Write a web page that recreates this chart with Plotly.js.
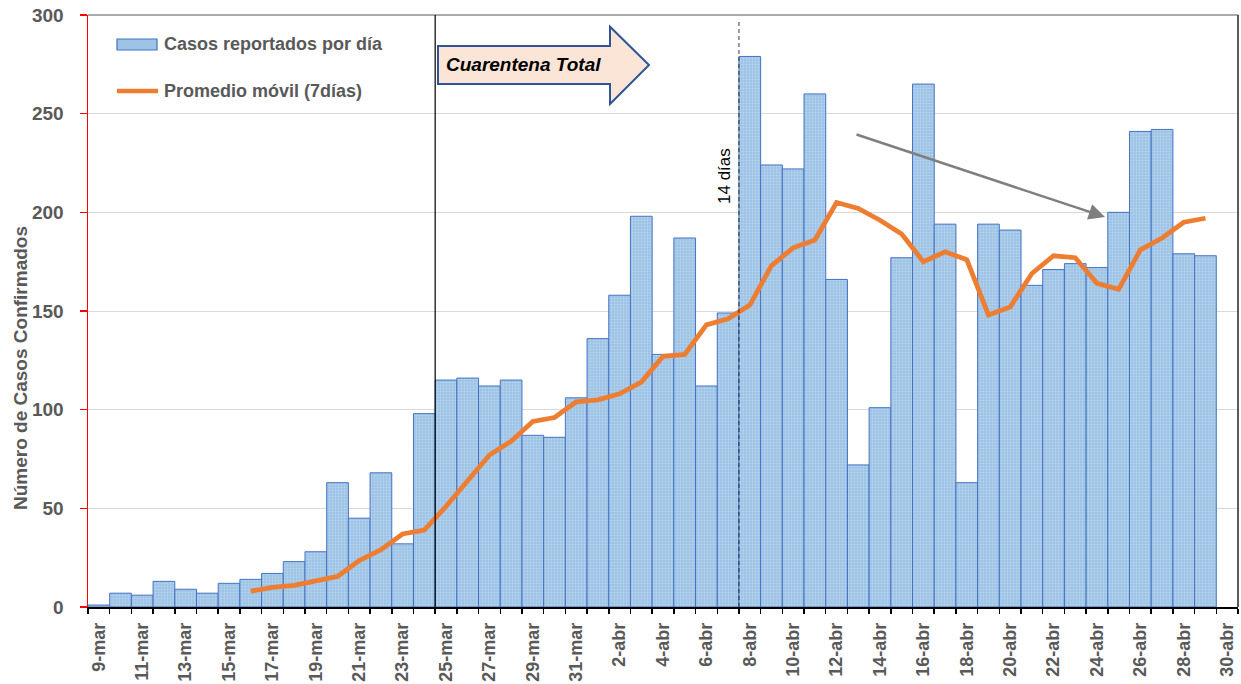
<!DOCTYPE html>
<html>
<head>
<meta charset="utf-8">
<script src="https://cdn.plot.ly/plotly-3.0.1.min.js"></script>
<style>
html,body{margin:0;padding:0;background:#ffffff;}
#chart{width:1241px;height:684px;}
</style>
</head>
<body>
<div id="chart"></div>
<script>
// Categories (days), 9-mar .. 30-abr
const dias = [
  "9-mar","10-mar","11-mar","12-mar","13-mar","14-mar","15-mar","16-mar","17-mar","18-mar",
  "19-mar","20-mar","21-mar","22-mar","23-mar","24-mar","25-mar","26-mar","27-mar","28-mar",
  "29-mar","30-mar","31-mar","1-abr","2-abr","3-abr","4-abr","5-abr","6-abr","7-abr",
  "8-abr","9-abr","10-abr","11-abr","12-abr","13-abr","14-abr","15-abr","16-abr","17-abr",
  "18-abr","19-abr","20-abr","21-abr","22-abr","23-abr","24-abr","25-abr","26-abr","27-abr",
  "28-abr","29-abr","30-abr"
];

// Daily reported cases (9-mar .. 29-abr)
const casosDias = dias.slice(0, 52);
const casos = [
  1,7,6,13,9,7,12,14,17,23,
  28,63,45,68,32,98,115,116,112,115,
  87,86,106,136,158,198,128,187,112,149,
  279,224,222,260,166,72,101,177,265,194,
  63,194,191,163,171,174,172,200,241,242,
  179,178
];

// 7-day moving average (16-mar .. 29-abr)
const promedioDias = dias.slice(7, 52);
const promedio = [
  8,10,11,13.5,15.5,23.5,29,37,39,51,
  64,77,84,94,96,104,105,108,114,127,
  128,143,146,153,173,182,186,205,202,196,
  189,175,180,176,148,152,169,178,177,164,
  161,181,187,195,197
];

// Tick labels: every other day
const tickTexto = dias.map((d, i) => (i % 2 === 0 ? d : ""));

const serieBarras = "Casos reportados por día";
const serieLinea = "Promedio móvil (7días)";

const FONT = "Liberation Sans, Arial, sans-serif";
const GRIS = "#595959";

const traces = [
  {
    type: "bar",
    name: serieBarras,
    x: casosDias,
    y: casos,
    marker: {
      color: "#9DC3E6",
      line: { color: "#4472C4", width: 1 },
      pattern: { shape: ".", bgcolor: "#9DC3E6", fgcolor: "#B8D4EE", size: 3, solidity: 0.35, fillmode: "replace" }
    },
    showlegend: false,
    hoverinfo: "x+y"
  },
  {
    type: "scatter",
    mode: "lines",
    name: serieLinea,
    x: promedioDias,
    y: promedio,
    line: { color: "#ED7D31", width: 4.8 },
    showlegend: false
  }
];

const P = (px) => (px - 88) / 1150;   // helper for paper x (decorations)
const Q = (py) => (607 - py) / 592;   // helper for paper y (decorations)

const arrowPath =
  "M" + P(438) + "," + Q(46) +
  " L" + P(610) + "," + Q(46) +
  " L" + P(610) + "," + Q(26.7) +
  " L" + P(649) + "," + Q(65) +
  " L" + P(610) + "," + Q(104) +
  " L" + P(610) + "," + Q(84) +
  " L" + P(438) + "," + Q(84) + " Z";

const layout = {
  width: 1241,
  height: 684,
  margin: { l: 88, r: 3, t: 15, b: 77 },
  paper_bgcolor: "#ffffff",
  plot_bgcolor: "#ffffff",
  bargap: 0,
  showlegend: false,
  font: { family: FONT, color: GRIS },
  xaxis: {
    type: "category",
    categoryorder: "array",
    categoryarray: dias,
    range: [-0.5, dias.length - 0.5],
    tickmode: "array",
    tickvals: dias,
    ticktext: tickTexto,
    tickson: "boundaries",
    ticks: "outside",
    ticklen: 5,
    tickwidth: 1.5,
    tickcolor: "#000000",
    tickangle: -90,
    tickfont: { family: FONT, size: 18, color: GRIS, weight: "bold" },
    ticklabelstandoff: 7,
    showline: true,
    linecolor: "#000000",
    linewidth: 1.5,
    showgrid: false,
    zeroline: false,
    fixedrange: true
  },
  yaxis: {
    range: [0, 300],
    tickmode: "linear",
    tick0: 0,
    dtick: 50,
    ticks: "outside",
    ticklen: 7,
    tickwidth: 1.2,
    tickcolor: "#FF0000",
    showline: true,
    linecolor: "#FF0000",
    linewidth: 1.5,
    gridcolor: "#D9D9D9",
    gridwidth: 1,
    zeroline: false,
    tickfont: { family: FONT, size: 19, color: GRIS, weight: "bold" },
    ticklabelstandoff: 12,
    fixedrange: true
  },
  shapes: [
    // top border
    { type: "line", xref: "paper", yref: "paper", x0: 0, x1: 1, y0: 1, y1: 1, line: { color: "#595959", width: 1.2 } },
    // right border
    { type: "line", xref: "paper", yref: "paper", x0: 1, x1: 1, y0: 0, y1: 1, line: { color: "#262626", width: 1.5 } },
    // start of quarantine (between 24-mar and 25-mar)
    { type: "line", xref: "x", yref: "paper", x0: 15.5, x1: 15.5, y0: 0, y1: 1, line: { color: "#000000", width: 1.2 } },
    // 14 days later (8-abr)
    { type: "line", xref: "x", yref: "paper", x0: 29.5, x1: 29.5, y0: 0, y1: Q(20), line: { color: "#222222", width: 0.9, dash: "4px,3px" } },
    // "Cuarentena Total" block arrow
    { type: "path", xref: "paper", yref: "paper", path: arrowPath, fillcolor: "#FBE5D6", line: { color: "#2F5597", width: 2 } },
    // legend swatches
    { type: "rect", xref: "paper", yref: "paper", x0: P(117), x1: P(157), y0: Q(50), y1: Q(39), fillcolor: "#9DC3E6", line: { color: "#4472C4", width: 1.2 } },
    { type: "line", xref: "paper", yref: "paper", x0: P(117), x1: P(158), y0: Q(91), y1: Q(91), line: { color: "#ED7D31", width: 4.5 } }
  ],
  annotations: [
    {
      xref: "paper", yref: "paper", x: P(163), y: Q(44), xanchor: "left", yanchor: "middle",
      text: serieBarras, showarrow: false, borderpad: 0,
      font: { family: FONT, size: 18, color: GRIS, weight: "bold" }
    },
    {
      xref: "paper", yref: "paper", x: P(163), y: Q(91), xanchor: "left", yanchor: "middle",
      text: serieLinea, showarrow: false, borderpad: 0,
      font: { family: FONT, size: 18, color: GRIS, weight: "bold" }
    },
    {
      xref: "paper", yref: "paper", x: P(445), y: Q(65), xanchor: "left", yanchor: "middle",
      text: "<b><i>Cuarentena Total</i></b>", showarrow: false, borderpad: 0,
      font: { family: FONT, size: 19, color: "#000000" }
    },
    {
      xref: "paper", yref: "paper", x: P(725), y: Q(176), xanchor: "center", yanchor: "middle",
      text: "14 días", textangle: -90, showarrow: false, borderpad: 0,
      font: { family: FONT, size: 17, color: "#000000" }
    },
    {
      xref: "paper", yref: "paper", x: P(1105), y: Q(217),
      ax: -250, ay: -83, axref: "pixel", ayref: "pixel",
      text: "", showarrow: true, arrowhead: 2, arrowsize: 1.3, arrowwidth: 2.5, arrowcolor: "#7F7F7F"
    },
    {
      xref: "paper", yref: "paper", x: P(20), y: Q(368), xanchor: "center", yanchor: "middle",
      text: "Número de Casos Confirmados", textangle: -90, showarrow: false, borderpad: 0,
      font: { family: FONT, size: 19, color: GRIS, weight: "bold" }
    }
  ]
};

Plotly.newPlot("chart", traces, layout, { displayModeBar: false, staticPlot: true });
</script>
</body>
</html>
